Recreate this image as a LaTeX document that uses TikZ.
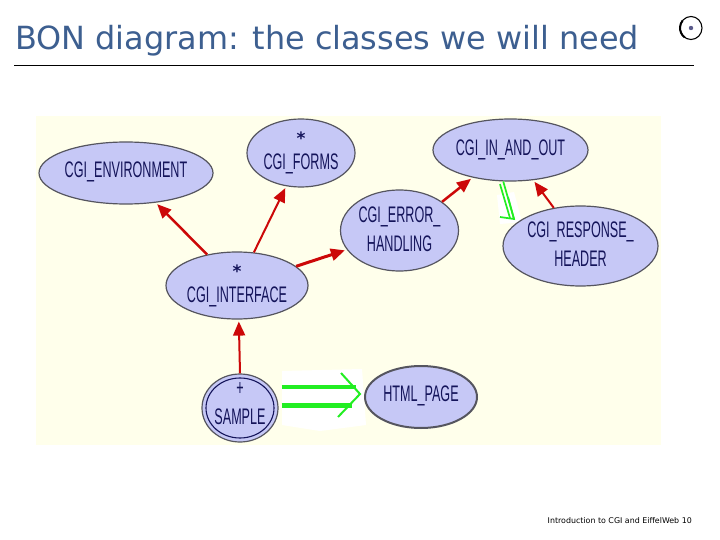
\documentclass[tikz,border=0pt]{standalone}
\usepackage{fontspec}
\usetikzlibrary{arrows.meta,shapes.geometric}
\setmainfont{DejaVu Sans}
\newfontfamily\lab[FakeStretch=0.56]{Liberation Sans}
\definecolor{bgy}{HTML}{FFFFEB}
\definecolor{bub}{HTML}{C6C8F6}
\definecolor{edgeg}{HTML}{55555F}
\definecolor{inkn}{HTML}{14145A}
\definecolor{redr}{HTML}{CC0808}
\definecolor{greeng}{HTML}{22EE22}
\definecolor{titleb}{HTML}{3D5F90}
\newcommand{\lbl}[2]{\makebox[0pt]{\smash{\raisebox{#1}[0pt][0pt]{\fontsize{22.5}{29}\lab\color{inkn}\begin{tabular}[c]{@{}c@{}}#2\end{tabular}}}}}
\newcommand{\asteriskline}{\raisebox{-4pt}{\fontsize{17}{17}\rmfamily\bfseries *}}
\tikzset{
  cls/.style={ellipse,draw=edgeg,fill=bub,line width=1.2pt,inner sep=0pt,minimum width=#1},
  cls/.default=100pt,
  redarrow/.style={draw=redr,-{Triangle[length=14pt,width=12pt]},shorten >=2pt},
  greenline/.style={draw=greeng,line width=1.7pt}
}
\begin{document}
\begin{tikzpicture}[x=1pt,y=-1pt]
\useasboundingbox (0,0) rectangle (720,540);
\fill[white] (0,0) rectangle (720,540);
\node[anchor=base west,font=\fontsize{31.9}{36}\selectfont,text=titleb,inner sep=0pt] (title) at (15,49.5) {BON diagram: the classes we will need};
\draw[black,line width=0.7pt] (14,65.5) -- (694,65.5);
\draw[black,line width=1.1pt] (691,28) ellipse (11 and 11.5);
\draw[black,line width=2pt] (684.7,37.4) arc[start angle=125,end angle=220,x radius=11,y radius=11.5];
\fill[inkn!70] (691,28) circle (2.2);
\fill[bgy] (36,116) rectangle (661,445);
% halos
\fill[white] (282,371) -- (362,369) -- (366,425) -- (320,431) -- (282,425) -- cycle;
\fill[white] (497,195) -- (514,192) -- (522,222) -- (500,224) -- cycle;
\node[cls=174pt,minimum height=62pt] (env) at (126,173) {\lbl{-4pt}{CGI\_ENVIRONMENT}};
\node[cls=108pt,minimum height=68pt] (forms) at (301,153) {\lbl{-1pt}{\asteriskline\\CGI\_FORMS}};
\node[cls=142pt,minimum height=67pt] (iface) at (237,285.5) {\lbl{-2pt}{\asteriskline\\CGI\_INTERFACE}};
\node[cls=118pt,minimum height=81pt] (err) at (399.5,230.5) {\lbl{-5.5pt}{CGI\_ERROR\_\\HANDLING}};
\node[cls=155pt,minimum height=62pt] (inout) at (510.5,150) {\lbl{-5pt}{CGI\_IN\_AND\_OUT}};
\node[cls=155pt,minimum height=80pt] (resp) at (580.5,246) {\lbl{-5.5pt}{CGI\_RESPONSE\_\\HEADER}};
\node[cls=76pt,minimum height=68pt] (sample) at (240,408) {};
\node[ellipse,draw=inkn,fill=bub,line width=1.1pt,inner sep=0pt,minimum width=68pt,minimum height=60pt] (sampleinner) at (240,408) {\lbl{-1pt}{+\\SAMPLE}};
\node[cls=112pt,minimum height=62pt,line width=2pt] (html) at (421,397) {\lbl{-4pt}{HTML\_PAGE}};
% inheritance
\draw[redarrow,line width=2.5pt] (iface.134.5) -- (env.-45);
\draw[redarrow,line width=2pt] (iface.63) -- (forms.-114.6);
\draw[redarrow,line width=3pt] (iface.18) -- (err.200);
\draw[redarrow,line width=2.5pt] (err.34.5) -- (inout.216.7);
\draw[redarrow,line width=2pt] (resp.125.2) -- (inout.-53.7);
\draw[redarrow,line width=2pt] (sample.north) -- (iface.-87);
% client arrows
\coordinate (gtipb) at (514,219);
\coordinate (gbarbl) at (500,217);
\coordinate (gbarbu) at (508,197);
\draw[greenline,shorten <=3pt] (inout.-110) -- (510,218);
\draw[greenline] (inout.-103) -- (gtipb);
\draw[greenline] (gbarbl) -- (gtipb) -- (gbarbu);
\draw[greenline,line width=3.2pt,shorten <=3pt,shorten >=8pt] ([yshift=21pt]sample.east) -- ([yshift=10pt]html.west);
\draw[greenline,line width=5pt,shorten <=3pt,shorten >=12pt] ([yshift=3pt]sample.east) -- ([yshift=-8pt]html.west);
\coordinate (gtipa) at ([xshift=-4pt,yshift=3pt]html.west);
\draw[greenline,line width=2pt] (341,373) -- (gtipa) -- (338,417);
\node[anchor=east,font=\fontsize{7.9}{9}\selectfont,inner sep=0pt] (foot) at (692,521) {Introduction to CGI and EiffelWeb 10};
\end{tikzpicture}
\end{document}
